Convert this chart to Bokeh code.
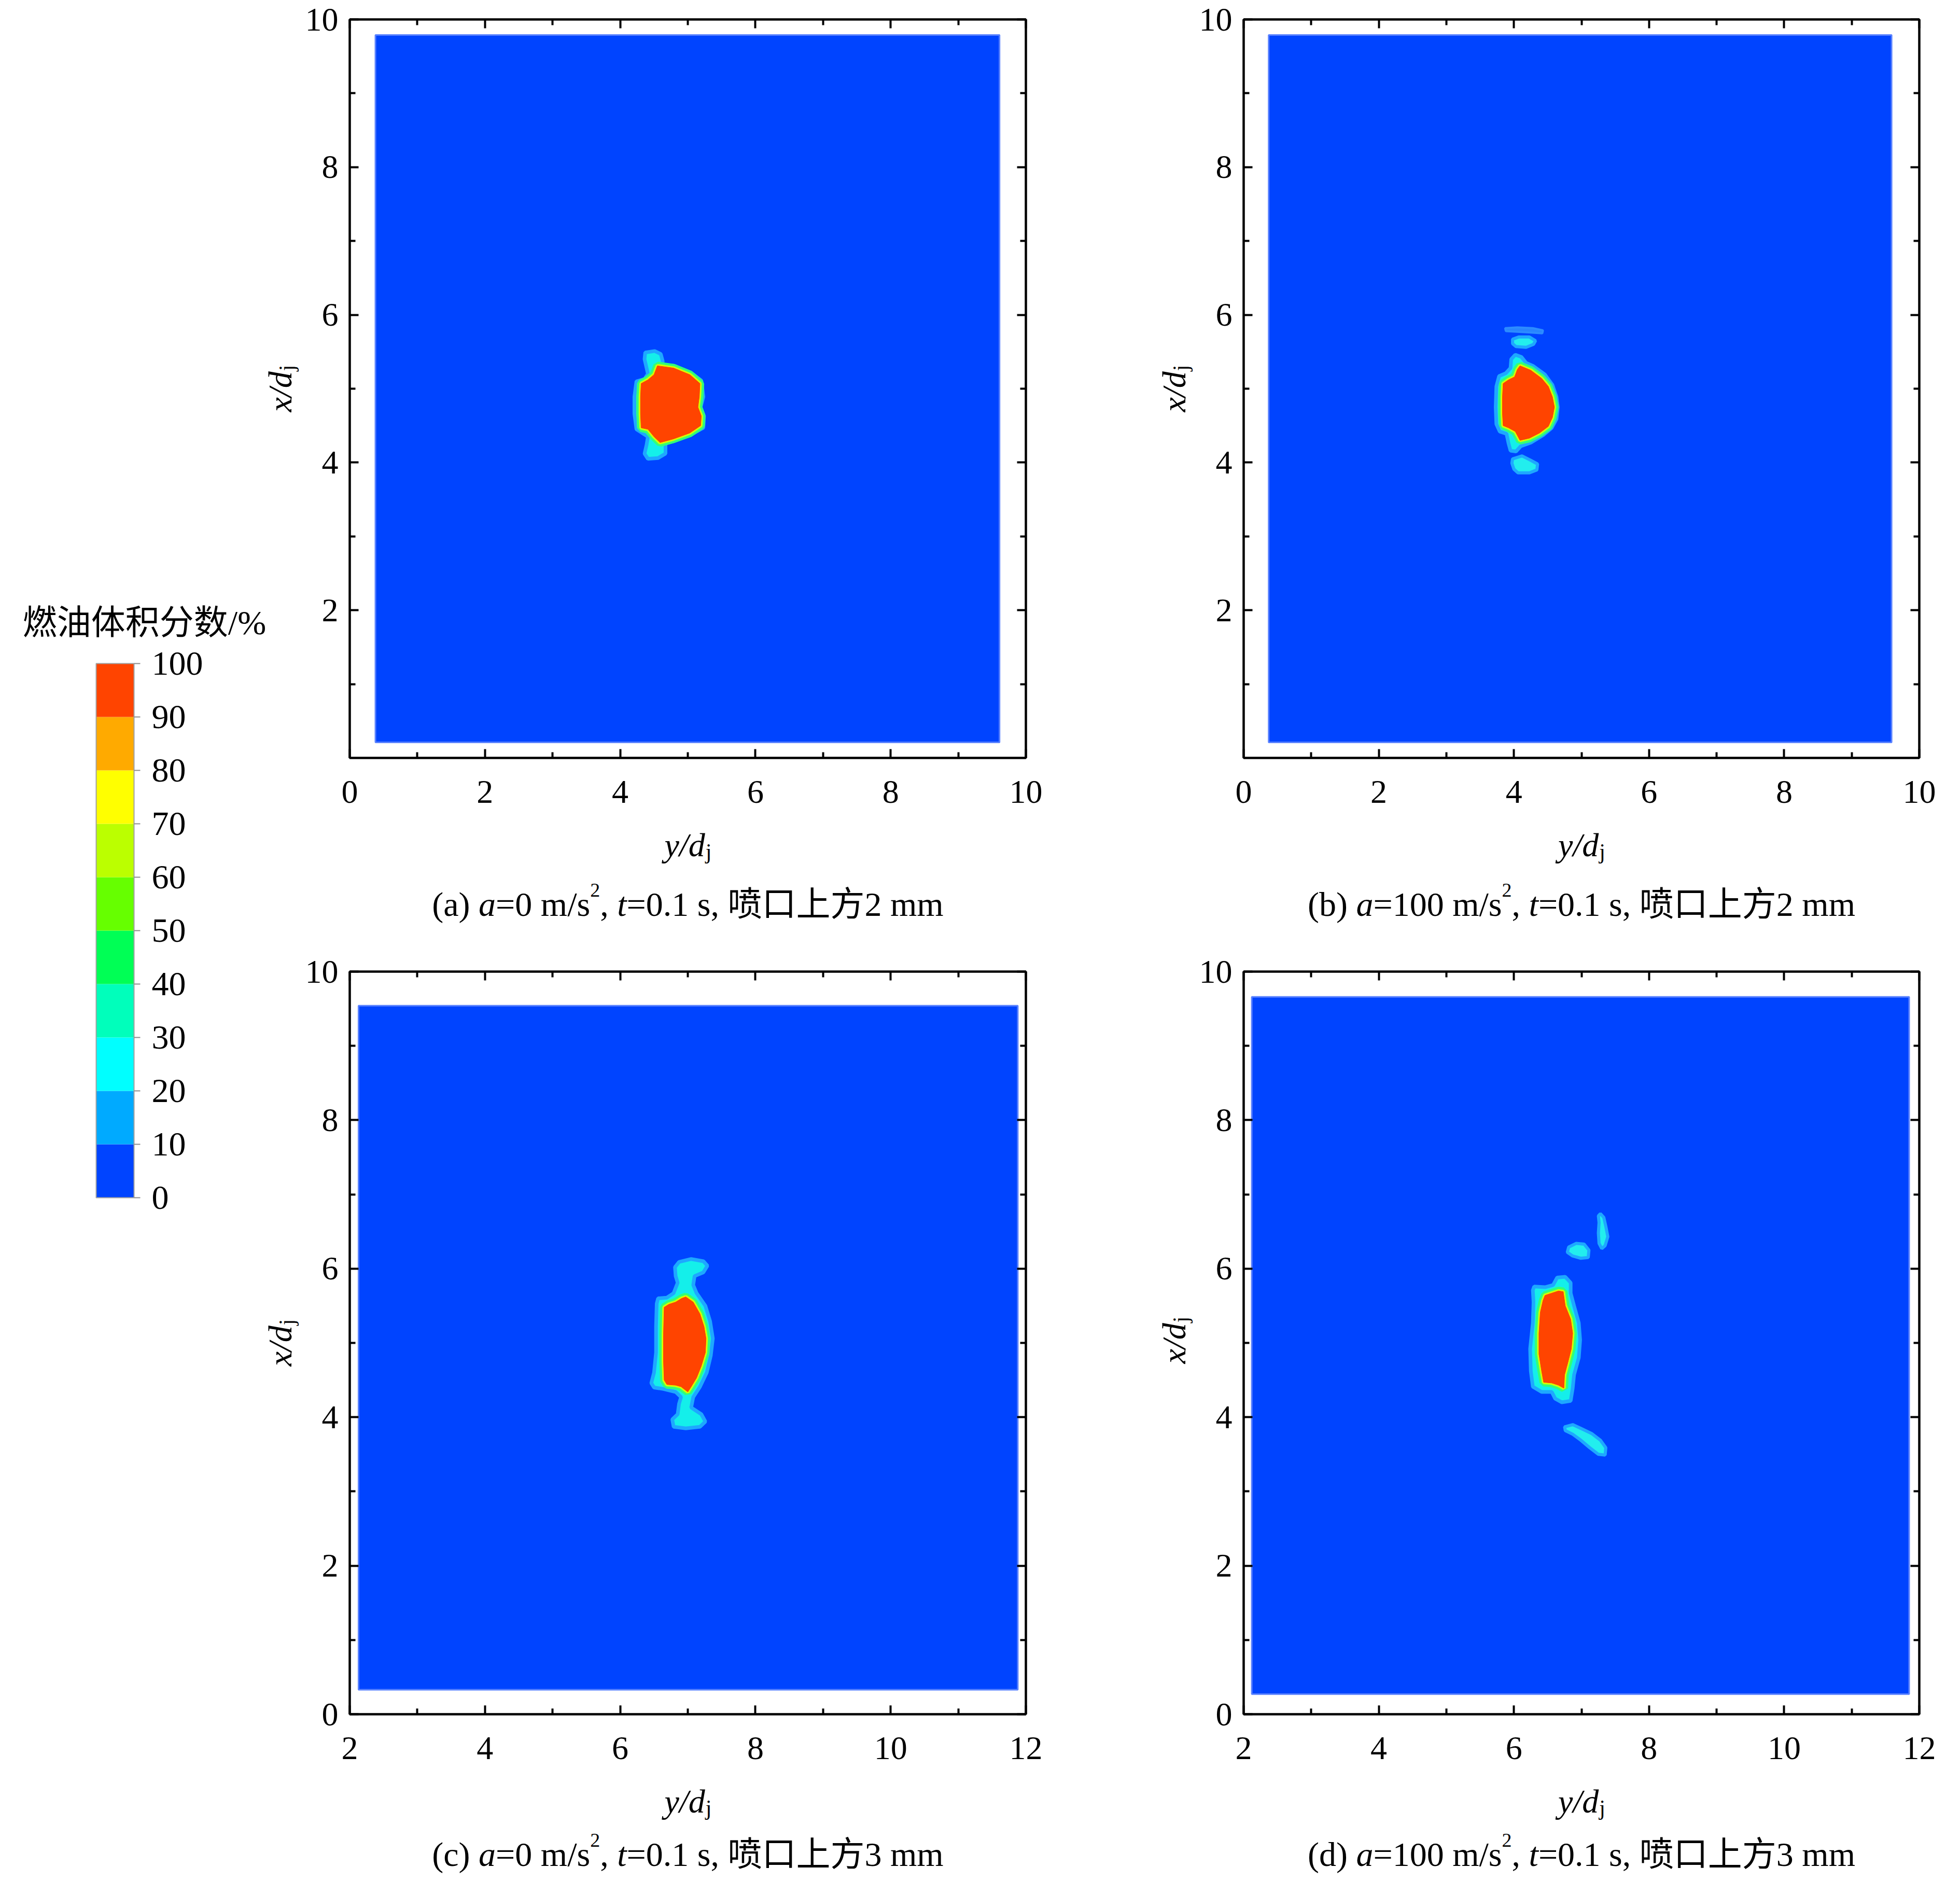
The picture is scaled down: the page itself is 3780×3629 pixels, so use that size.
from bokeh.plotting import figure
from bokeh.models import FixedTicker, LinearAxis, Range1d, CustomJSTickFormatter
from bokeh.core.properties import value
from bokeh.layouts import row, column
from bokeh.embed import file_html
from bokeh.resources import INLINE
import math

# ---------------- data ----------------
levels = [0, 10, 20, 30, 40, 50, 60, 70, 80, 90, 100]
level_colors = ["#0044FF", "#00AAFF", "#00FFFF", "#00FFBB", "#00FF55",
                "#66FF00", "#BBFF00", "#FFFF00", "#FFAA00", "#FF4400"]
level_labels = ["0", "10", "20", "30", "40", "50", "60", "70", "80", "90", "100"]
cbar_title = "燃油体积分数/%"

x_ticks_top = [0, 2, 4, 6, 8, 10]
x_minor_top = [1, 3, 5, 7, 9]
x_ticks_bot = [2, 4, 6, 8, 10, 12]
x_minor_bot = [3, 5, 7, 9, 11]
y_ticks_top = [2, 4, 6, 8, 10]
y_ticks_bot = [0, 2, 4, 6, 8, 10]
y_minor = [1, 3, 5, 7, 9]

# computational field (left, right, bottom, top)
field_a = [0.38, 9.61, 0.21, 9.79]
field_b = [0.37, 9.59, 0.21, 9.79]
field_c = [2.13, 11.88, 0.33, 9.54]
field_d = [2.12, 11.85, 0.27, 9.66]

# panel (a)
core_a_x = [4.55, 4.79, 5.03, 5.18, 5.17, 5.15, 5.20, 5.19, 5.03, 4.79, 4.59, 4.50, 4.41, 4.31, 4.30, 4.30, 4.31, 4.41, 4.50]
core_a_y = [5.31, 5.28, 5.19, 5.07, 4.89, 4.75, 4.63, 4.50, 4.40, 4.32, 4.27, 4.35, 4.45, 4.47, 4.66, 4.89, 5.07, 5.12, 5.19]
halo_a_x = [4.37, 4.51, 4.60, 4.63, 4.62, 4.79, 5.04, 5.20, 5.23, 5.19, 5.24, 5.23, 5.05, 4.79, 4.67, 4.67, 4.56, 4.41, 4.36, 4.39,
            4.41, 4.31, 4.24, 4.21, 4.21, 4.24, 4.36, 4.41, 4.39, 4.36]
halo_a_y = [5.49, 5.51, 5.47, 5.37, 5.32, 5.31, 5.22, 5.11, 4.89, 4.75, 4.63, 4.47, 4.38, 4.29, 4.26, 4.12, 4.06, 4.05, 4.12, 4.24,
            4.35, 4.41, 4.45, 4.66, 4.89, 5.10, 5.13, 5.20, 5.28, 5.40]

# panel (b)
core_b_x = [4.09, 4.25, 4.41, 4.51, 4.57, 4.60, 4.57, 4.51, 4.38, 4.23, 4.09, 4.02, 3.92, 3.84, 3.83, 3.83, 3.84, 3.92, 4.01, 4.05]
core_b_y = [5.31, 5.25, 5.14, 5.03, 4.89, 4.75, 4.61, 4.49, 4.40, 4.33, 4.30, 4.42, 4.47, 4.50, 4.66, 4.89, 5.07, 5.12, 5.16, 5.26]
halo_b_x = [4.02, 4.11, 4.18, 4.28, 4.46, 4.57, 4.63, 4.65, 4.63, 4.56, 4.43, 4.25, 4.10, 4.03, 3.95, 3.92, 3.89, 3.79, 3.74, 3.73,
            3.74, 3.78, 3.88, 3.95, 3.96]
halo_b_y = [5.46, 5.43, 5.35, 5.31, 5.19, 5.05, 4.89, 4.75, 4.59, 4.47, 4.37, 4.27, 4.22, 4.15, 4.16, 4.26, 4.39, 4.42, 4.52, 4.75,
            5.03, 5.17, 5.21, 5.28, 5.40]
lobes_b_x = [[3.98, 4.07, 4.23, 4.32, 4.29, 4.18, 4.03, 3.98],
             [3.98, 4.12, 4.25, 4.35, 4.34, 4.23, 4.06, 4.00, 3.97]]
lobes_b_y = [[5.67, 5.70, 5.70, 5.65, 5.60, 5.56, 5.57, 5.61],
             [4.05, 4.09, 4.03, 3.98, 3.90, 3.86, 3.86, 3.91, 3.99]]
faint_b_x = [[3.87, 4.05, 4.28, 4.43, 4.42, 4.25, 4.05, 3.88]]
faint_b_y = [[5.82, 5.83, 5.82, 5.79, 5.75, 5.76, 5.77, 5.78]]

# panel (c)
core_c_x = [6.97, 7.08, 7.18, 7.24, 7.27, 7.26, 7.20, 7.13, 7.05, 7.00, 6.90, 6.82, 6.69, 6.65, 6.64, 6.64, 6.65, 6.72, 6.82, 6.91]
core_c_y = [5.62, 5.55, 5.39, 5.22, 5.06, 4.87, 4.69, 4.53, 4.41, 4.34, 4.41, 4.43, 4.44, 4.50, 4.76, 5.11, 5.48, 5.52, 5.55, 5.60]
halo_c_x = [6.87, 7.05, 7.23, 7.29, 7.23, 7.10, 7.08, 7.13, 7.26, 7.33, 7.37, 7.34, 7.28, 7.18, 7.08, 7.05, 7.20, 7.26, 7.18, 6.97,
            6.79, 6.77, 6.85, 6.87, 6.90, 6.82, 6.64, 6.50, 6.46, 6.50, 6.53, 6.53, 6.54, 6.56, 6.69, 6.79, 6.85, 6.82, 6.81]
halo_c_y = [6.09, 6.13, 6.10, 6.04, 5.95, 5.90, 5.78, 5.67, 5.50, 5.29, 5.06, 4.83, 4.60, 4.41, 4.27, 4.13, 4.04, 3.94, 3.87, 3.85,
            3.87, 3.97, 4.04, 4.18, 4.27, 4.34, 4.38, 4.40, 4.46, 4.60, 4.87, 5.22, 5.53, 5.60, 5.61, 5.67, 5.81, 5.90, 6.02]

# panel (d)
core_d_x = [6.46, 6.56, 6.66, 6.73, 6.76, 6.84, 6.87, 6.85, 6.80, 6.75, 6.74, 6.66, 6.56, 6.44, 6.41, 6.37, 6.37, 6.39, 6.43]
core_d_y = [5.64, 5.67, 5.70, 5.69, 5.50, 5.32, 5.13, 4.92, 4.74, 4.57, 4.39, 4.43, 4.46, 4.47, 4.62, 4.85, 5.13, 5.41, 5.57]
halo_d_x = [6.30, 6.46, 6.58, 6.64, 6.76, 6.84, 6.84, 6.89, 6.96, 6.98, 6.96, 6.89, 6.87, 6.84, 6.71, 6.61, 6.56, 6.41, 6.28, 6.25,
            6.24, 6.28, 6.29, 6.28]
halo_d_y = [5.76, 5.75, 5.78, 5.88, 5.89, 5.81, 5.67, 5.50, 5.27, 5.04, 4.80, 4.57, 4.39, 4.22, 4.20, 4.25, 4.34, 4.34, 4.41, 4.62,
            4.92, 5.27, 5.55, 5.71]
lobes_d_x = [[7.28, 7.33, 7.36, 7.39, 7.35, 7.30, 7.26, 7.25, 7.26, 7.25],
             [6.81, 6.92, 7.04, 7.11, 7.10, 6.99, 6.87, 6.79],
             [6.75, 6.87, 6.99, 7.15, 7.28, 7.36, 7.35, 7.25, 7.12, 6.99, 6.87, 6.76]]
lobes_d_y = [[6.74, 6.69, 6.57, 6.43, 6.31, 6.27, 6.34, 6.48, 6.62, 6.71],
             [6.29, 6.34, 6.33, 6.25, 6.15, 6.14, 6.17, 6.22],
             [3.87, 3.90, 3.85, 3.78, 3.69, 3.59, 3.49, 3.50, 3.59, 3.69, 3.77, 3.82]]

captions = {
    "a": ["(a) ", "a", "=0 m/s", "2", ", ", "t", "=0.1 s, 喷口上方2 mm"],
    "b": ["(b) ", "a", "=100 m/s", "2", ", ", "t", "=0.1 s, 喷口上方2 mm"],
    "c": ["(c) ", "a", "=0 m/s", "2", ", ", "t", "=0.1 s, 喷口上方3 mm"],
    "d": ["(d) ", "a", "=100 m/s", "2", ", ", "t", "=0.1 s, 喷口上方3 mm"],
}
xlabel_parts = ["y/d", "j"]
ylabel_parts = ["x/d", "j"]

# ---------------- styling ----------------
SERIF = "'Liberation Serif', 'Noto Sans CJK SC', serif"
FS = 64          # tick labels, axis titles
CFS = 66         # captions, colour-bar text
SUB = 42
SUP = 38
RED = "#FF4400"
BLUE = "#0044FF"

REG = {' ': 250, '(': 333, ')': 333, 'a': 444, 'b': 500, 'c': 444, 'd': 500, '=': 564, '.': 250, ',': 250,
       'm': 778, '/': 278, 's': 389, 't': 278, 'j': 278, 'y': 500, 'x': 500, '%': 833}
for _ch in "0123456789":
    REG[_ch] = 500
ITA = {'a': 500, 't': 278, 'y': 444, 'd': 500, '/': 278, 'x': 444}


def tw(s, size, italic=False):
    tbl = ITA if italic else REG
    w = 0
    for ch in s:
        if ord(ch) > 0x2E80:
            w += 1000
        else:
            w += tbl.get(ch, REG.get(ch, 500))
    return w * size / 1000.0


def txt(p, s, x, y, size=FS, style="normal", angle=0.0, align="left"):
    p.text(x=[x], y=[y], text=[s], text_font=value(SERIF), text_font_size=value(f"{size}px"),
           text_font_style=value(style), text_color="black", text_align=value(align),
           text_baseline=value("alphabetic"), angle=angle)


def canvas_fig(w, h, bl=0, br=0):
    # a text-only figure; its frame spans (w - bl - br) x h pixels, ranges in pixels
    p = figure(width=w, height=h, x_range=Range1d(0, w - bl - br), y_range=Range1d(0, h),
               output_backend="svg", toolbar_location=None, title=None,
               min_border_left=bl, min_border_right=br, min_border_top=0, min_border_bottom=0,
               x_axis_location=None, y_axis_location=None)
    p.outline_line_color = None
    p.background_fill_color = "white"
    p.border_fill_color = "white"
    p.xgrid.visible = False
    p.ygrid.visible = False
    return p


def add_xlabel(p, cx, y):
    w1 = tw(xlabel_parts[0], FS, True)
    w2 = tw(xlabel_parts[1], SUB)
    x0 = cx - (w1 + w2) / 2.0
    txt(p, xlabel_parts[0], x0, y, FS, "italic")
    txt(p, xlabel_parts[1], x0 + w1 + 1, y - 12, SUB)


def add_ylabel(p, bx, cy):
    w1 = tw(ylabel_parts[0], FS, True)
    w2 = tw(ylabel_parts[1], SUB)
    y0 = cy - (w1 + w2) / 2.0
    txt(p, ylabel_parts[0], bx, y0, FS, "italic", math.pi / 2)
    txt(p, ylabel_parts[1], bx + 12, y0 + w1 + 1, SUB, "normal", math.pi / 2)


def add_caption(p, key, cx, y):
    parts = captions[key]
    specs = [(parts[0], CFS, False, 0), (parts[1], CFS, True, 0), (parts[2], CFS, False, 0),
             (parts[3], SUP, False, 27), (parts[4], CFS, False, 0), (parts[5], CFS, True, 0),
             (parts[6], CFS, False, 0)]
    total = sum(tw(t, s, it) for t, s, it, _ in specs)
    x = cx - total / 2.0
    for t, s, it, dy in specs:
        txt(p, t, x, y + dy, s, "italic" if it else "normal")
        x += tw(t, s, it)


def style_axis(ax, ticks, minor, show, standoff):
    ax.ticker = FixedTicker(ticks=ticks, minor_ticks=minor)
    ax.axis_line_color = "black"
    ax.axis_line_width = 4
    ax.major_tick_line_color = "black"
    ax.major_tick_line_width = 4
    ax.major_tick_in = 17
    ax.major_tick_out = 0
    ax.minor_tick_line_color = "black"
    ax.minor_tick_line_width = 4
    ax.minor_tick_in = 11
    ax.minor_tick_out = 0
    ax.major_label_text_font = SERIF
    ax.major_label_text_color = "black"
    if show:
        ax.major_label_text_font_size = f"{FS}px"
        ax.major_label_standoff = standoff
    else:
        ax.major_label_text_font_size = "0px"
        ax.major_label_standoff = 0
        ax.formatter = CustomJSTickFormatter(code="return ''")


def make_panel(xr, xt, xm, yt, width, height, bl, br, bt, bb, field, halo, core, lobes, faint):
    p = figure(width=width, height=height, x_range=Range1d(*xr), y_range=Range1d(0, 10),
               output_backend="svg", toolbar_location=None, title=None,
               min_border_left=bl, min_border_right=br, min_border_top=bt, min_border_bottom=bb,
               x_axis_location=None, y_axis_location=None)
    p.background_fill_color = "white"
    p.border_fill_color = "white"
    p.outline_line_color = "black"
    p.outline_line_width = 4
    p.xgrid.visible = False
    p.ygrid.visible = False

    p.quad(left=[field[0]], right=[field[1]], bottom=[field[2]], top=[field[3]],
           fill_color=BLUE, line_color="#5A82FF", line_width=3)
    if faint:
        p.patches(faint[0], faint[1], fill_color="#2C8CFF", line_color="#2C8CFF", line_width=4, fill_alpha=0.9)
    if lobes:
        p.patches(lobes[0], lobes[1], fill_color="#22EEEE", line_color="#1EA8FF", line_width=6)
    p.patch(halo[0], halo[1], fill_color="#14EFEA", line_color="#1EA8FF", line_width=7)
    p.patch(core[0], core[1], fill_color=RED, line_color="#33FF77", line_width=16)
    p.patch(core[0], core[1], fill_color=RED, line_color="#D6FF00", line_width=7)
    p.patch(core[0], core[1], fill_color=RED, line_color=RED, line_width=1)

    for loc, ticks, minor, show, so in (("below", xt, xm, True, 44), ("above", xt, xm, False, 0),
                                        ("left", yt, y_minor, True, 22), ("right", yt, y_minor, False, 0)):
        ax = LinearAxis()
        style_axis(ax, ticks, minor, show, so)
        p.add_layout(ax, loc)
    return p


# ---------------- layout geometry (pixels) ----------------
LEFT_W, COLA_W, MID_W, COLB_W = 580, 1442, 284, 1445
FA_H, CAPA_H, FC_H, CAPC_H = 1586, 231, 1613, 183
TOP_BT = 37                 # room above the top-row frames for the "10" labels
TOTAL_H = FA_H + CAPA_H + FC_H + CAPC_H
A_BL, A_BR, B_BL, B_BR = 94, 44, 92, 50
A_FW = COLA_W - A_BL - A_BR
B_FW = COLB_W - B_BL - B_BR

fa = make_panel((0, 10), x_ticks_top, x_minor_top, y_ticks_top, COLA_W, FA_H, A_BL, A_BR, TOP_BT, 125,
                field_a, (halo_a_x, halo_a_y), (core_a_x, core_a_y), None, None)
fb = make_panel((0, 10), x_ticks_top, x_minor_top, y_ticks_top, COLB_W, FA_H, B_BL, B_BR, TOP_BT, 125,
                field_b, (halo_b_x, halo_b_y), (core_b_x, core_b_y), (lobes_b_x, lobes_b_y), (faint_b_x, faint_b_y))
fc = make_panel((2, 12), x_ticks_bot, x_minor_bot, y_ticks_bot, COLA_W, FC_H, A_BL, A_BR, 56, 125,
                field_c, (halo_c_x, halo_c_y), (core_c_x, core_c_y), None, None)
fd = make_panel((2, 12), x_ticks_bot, x_minor_bot, y_ticks_bot, COLB_W, FC_H, B_BL, B_BR, 56, 125,
                field_d, (halo_d_x, halo_d_y), (core_d_x, core_d_y), (lobes_d_x, lobes_d_y), None)

# caption strips: positions measured from each strip's top edge
cap_a = canvas_fig(COLA_W, CAPA_H, A_BL, A_BR)
add_xlabel(cap_a, A_FW / 2.0, CAPA_H - 43)
add_caption(cap_a, "a", A_FW / 2.0, CAPA_H - 157)
cap_b = canvas_fig(COLB_W, CAPA_H, B_BL, B_BR)
add_xlabel(cap_b, B_FW / 2.0, CAPA_H - 43)
add_caption(cap_b, "b", B_FW / 2.0, CAPA_H - 157)
cap_c = canvas_fig(COLA_W, CAPC_H, A_BL, A_BR)
add_xlabel(cap_c, A_FW / 2.0, CAPC_H - 43)
add_caption(cap_c, "c", A_FW / 2.0, CAPC_H - 145)
cap_d = canvas_fig(COLB_W, CAPC_H, B_BL, B_BR)
add_xlabel(cap_d, B_FW / 2.0, CAPC_H - 43)
add_caption(cap_d, "d", B_FW / 2.0, CAPC_H - 145)

# middle column: y-axis titles of (b) and (d)
top_frame_mid = TOP_BT + (FA_H - TOP_BT - 125) / 2.0
mid_top = canvas_fig(MID_W, FA_H + CAPA_H)
add_ylabel(mid_top, 242, FA_H + CAPA_H - top_frame_mid)
mid_bot = canvas_fig(MID_W, FC_H + CAPC_H)
add_ylabel(mid_bot, 242, FC_H + CAPC_H - 767)

# left column: colour bar (drawn from the level arrays), its title, y-axis titles of (a) and (c)
BAR_L, BAR_W, BAR_BOTTOM, BAR_H = 185, 73, 1304, 1030   # pixels inside the left figure
px_per_level = BAR_H / (levels[-1] - levels[0])
left = canvas_fig(LEFT_W, TOTAL_H)
left.extra_y_ranges = {"lv": Range1d(levels[0] - BAR_BOTTOM / px_per_level,
                                     levels[-1] + (TOTAL_H - BAR_BOTTOM - BAR_H) / px_per_level)}
left.quad(left=BAR_L, right=BAR_L + BAR_W, bottom=levels[:-1], top=levels[1:],
          fill_color=level_colors, line_color=None, y_range_name="lv")
left.quad(left=[BAR_L], right=[BAR_L + BAR_W], bottom=[levels[0]], top=[levels[-1]],
          fill_color=None, line_color="#A0A0A0", line_width=2, y_range_name="lv")
left.segment(x0=BAR_L + BAR_W, x1=BAR_L + BAR_W + 12, y0=levels, y1=levels,
             line_color="#8C8C8C", line_width=2, y_range_name="lv")
left.text(x=BAR_L + BAR_W + 34, y=levels, text=level_labels, text_font=value(SERIF),
          text_font_size=value(f"{CFS}px"), text_color="black", text_align=value("left"),
          text_baseline=value("middle"), y_range_name="lv")
txt(left, cbar_title, 278, TOTAL_H - (1208 - 8), CFS, "normal", 0.0, "center")
add_ylabel(left, 540, TOTAL_H - top_frame_mid)
add_ylabel(left, 540, TOTAL_H - (2597 - 8))

layout = row(left,
             column(fa, cap_a, fc, cap_c),
             column(mid_top, mid_bot),
             column(fb, cap_b, fd, cap_d))
open("out.html", "w").write(file_html(layout, INLINE))
